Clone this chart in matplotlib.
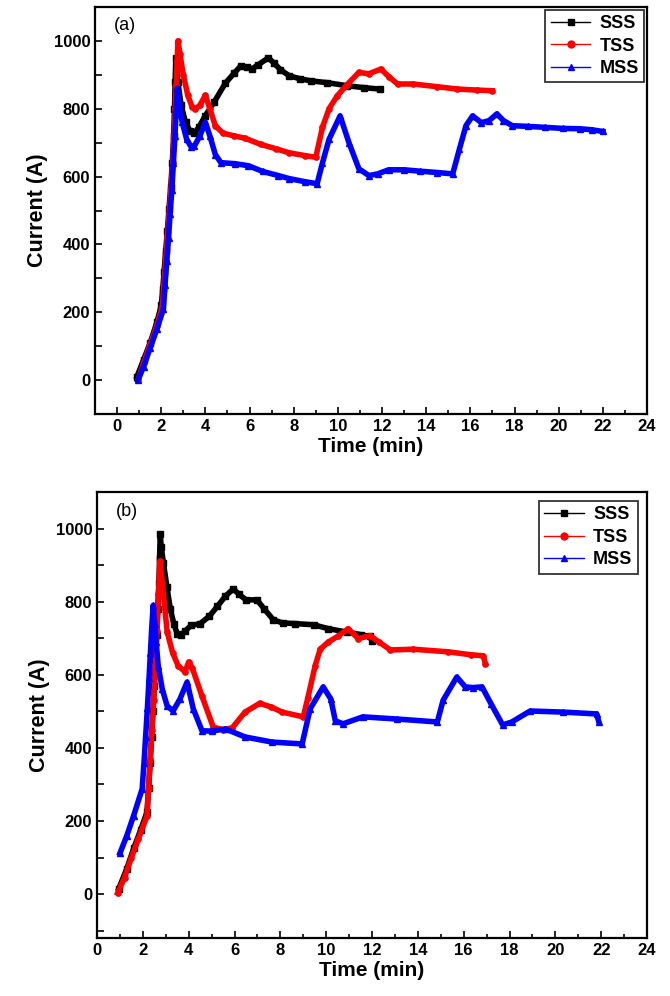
import matplotlib.pyplot as plt
from matplotlib.lines import Line2D
from matplotlib.ticker import MultipleLocator

plt.rcParams['font.family'] = ['Liberation Sans', 'DejaVu Sans']

# ---- panel (a) ----
a_sss_t = [0.9, 1.2, 1.5, 1.8, 2.0, 2.07, 2.13, 2.2, 2.28, 2.35, 2.43, 2.5, 2.56, 2.6, 2.63, 2.66,
           2.75, 2.9, 3.1, 3.3, 3.5, 3.7, 4.0, 4.4, 4.9, 5.3, 5.6, 5.9, 6.1, 6.4, 6.85, 7.1, 7.4,
           7.8, 8.3, 8.8, 9.5, 10.4, 11.2, 11.9]
a_sss_i = [10, 60, 110, 170, 220, 270, 320, 380, 440, 505, 570, 640, 720, 800, 880, 950,
           880, 810, 760, 735, 728, 745, 780, 820, 875, 905, 926, 922, 917, 930, 950, 935, 915,
           897, 888, 882, 877, 868, 862, 858]

a_tss_t = [0.95, 1.2, 1.5, 1.8, 2.05, 2.12, 2.2, 2.28, 2.36, 2.44, 2.52, 2.58, 2.64, 2.68, 2.72, 2.76,
           2.85, 3.0, 3.2, 3.4, 3.55, 3.75, 4.0, 4.2, 4.45, 4.8, 5.3, 5.8, 6.5, 7.2, 7.8, 8.5, 9.0,
           9.3, 9.6, 9.97, 10.4, 10.95, 11.4, 11.95, 12.3, 12.7, 13.4, 14.5, 15.4, 16.3, 17.0]
a_tss_i = [0, 50, 105, 160, 215, 280, 350, 420, 490, 560, 640, 720, 800, 870, 940, 1000,
           960, 900, 840, 805, 800, 810, 840, 800, 750, 728, 720, 713, 695, 682, 670, 662, 657,
           745, 800, 838, 870, 907, 903, 917, 895, 873, 873, 865, 858, 855, 853]

a_mss_t = [0.95, 1.2, 1.5, 1.8, 2.1, 2.17, 2.25, 2.33, 2.4, 2.48, 2.55, 2.62, 2.68, 2.73,
           2.8, 2.95, 3.15, 3.35, 3.5, 3.75, 4.0, 4.2, 4.45, 4.7, 5.35, 5.95, 6.6, 7.3, 7.8, 8.5,
           9.06, 9.3, 9.6, 10.1, 10.5, 10.95, 11.4, 11.8, 12.3, 13.0, 13.7, 14.5, 15.2, 15.5, 15.8,
           16.1, 16.5, 16.85, 17.2, 17.5, 17.9, 18.6, 19.4, 20.2, 20.95, 21.5, 22.0]
a_mss_i = [0, 40, 95, 150, 210, 280, 350, 420, 490, 560, 640, 720, 800, 860,
           820, 760, 710, 688, 690, 720, 760, 720, 665, 641, 638, 632, 615, 603, 594, 585,
           579, 640, 710, 779, 700, 623, 603, 608, 620, 620, 616, 612, 608, 680, 750,
           779, 759, 765, 785, 765, 750, 748, 745, 742, 741, 738, 733]

# ---- panel (b) ----
b_sss_t = [0.95, 1.3, 1.6, 1.9, 2.18, 2.25, 2.32, 2.38, 2.44, 2.5, 2.55, 2.6, 2.65, 2.7, 2.73, 2.76,
           2.8, 2.9, 3.05, 3.2, 3.35, 3.5, 3.65, 3.85, 4.1, 4.5, 4.9, 5.25, 5.6, 5.95, 6.2, 6.5,
           6.98, 7.3, 7.7, 8.1, 8.65, 9.45, 10.1, 10.9, 11.5, 11.9, 12.0]
b_sss_i = [15, 70, 125, 175, 224, 290, 360, 430, 500, 570, 640, 710, 780, 850, 920, 985,
           950, 905, 840, 780, 740, 712, 708, 720, 735, 740, 760, 787, 815, 835, 820, 805,
           805, 780, 750, 742, 740, 737, 726, 717, 710, 705, 693]

b_tss_t = [0.9, 1.2, 1.5, 1.8, 2.18, 2.25, 2.32, 2.4, 2.47, 2.55, 2.62, 2.68, 2.75,
           2.85, 3.06, 3.3, 3.54, 3.84, 4.0, 4.15, 4.58, 5.07, 5.5, 5.9, 6.46, 7.1, 7.6, 8.08,
           9.0, 9.2, 9.52, 9.74, 10.1, 10.5, 10.96, 11.4, 11.92, 12.3, 12.8, 13.8, 15.3, 16.3,
           16.85, 16.95]
b_tss_i = [3, 45, 100, 150, 214, 290, 370, 450, 530, 620, 720, 820, 911,
           850, 718, 660, 625, 608, 635, 620, 542, 457, 450, 455, 498, 522, 512, 498,
           485, 537, 625, 670, 690, 705, 726, 699, 707, 690, 668, 670, 663, 655,
           652, 630]

b_mss_t = [1.0, 1.3, 1.6, 1.97, 2.05, 2.12, 2.2, 2.27, 2.33, 2.39, 2.45, 2.52, 2.58, 2.67,
           2.85, 3.06, 3.32, 3.62, 3.93, 4.2, 4.58, 5.0, 5.6, 6.46, 7.64, 8.95, 9.3, 9.87,
           10.2, 10.4, 10.74, 11.6, 13.1, 14.85, 15.1, 15.7, 16.07, 16.4, 16.8, 17.2, 17.7,
           18.1, 18.9, 20.35, 21.8, 21.9]
b_mss_i = [112, 160, 215, 288, 360, 430, 510, 590, 660, 730, 790, 740, 690, 625,
           560, 515, 501, 534, 580, 507, 447, 446, 452, 430, 416, 411, 507, 567,
           534, 474, 466, 485, 479, 471, 530, 594, 567, 565, 567, 520, 463,
           471, 501, 498, 493, 471]

names = ['SSS', 'TSS', 'MSS']
colors = ['black', 'red', 'blue']
markers = ['s', 'o', '^']

fig = plt.figure(figsize=(6.7, 9.96), dpi=100)
ax_a = fig.add_axes([0.1418, 0.5843, 0.8239, 0.4087])
ax_b = fig.add_axes([0.1448, 0.0582, 0.8209, 0.4478])

panels = [
    (ax_a, [(a_sss_t, a_sss_i), (a_tss_t, a_tss_i), (a_mss_t, a_mss_i)], '(a)', (-1, 24), (-100, 1100)),
    (ax_b, [(b_sss_t, b_sss_i), (b_tss_t, b_tss_i), (b_mss_t, b_mss_i)], '(b)', (0, 24), (-120, 1100)),
]

for ax, series, tag, xl, yl in panels:
    for (t, i), c, m in zip(series, colors, markers):
        ax.plot(t, i, color=c, lw=4.0, marker=m, ms=3.8, mec=c, mfc=c)
    ax.set_xlim(*xl)
    ax.set_ylim(*yl)
    ax.xaxis.set_major_locator(MultipleLocator(2))
    ax.xaxis.set_minor_locator(MultipleLocator(1))
    ax.yaxis.set_major_locator(MultipleLocator(200))
    ax.yaxis.set_minor_locator(MultipleLocator(100))
    ax.tick_params(which='major', direction='in', length=5, width=1.2, labelsize=12)
    ax.tick_params(which='minor', direction='in', length=3, width=1.2)
    ax.tick_params(axis='y', which='minor', length=5)
    for lab in ax.get_xticklabels() + ax.get_yticklabels():
        lab.set_fontweight('bold')
    for sp in ax.spines.values():
        sp.set_linewidth(1.6)
    ax.set_xlabel('Time (min)', fontsize=15, fontweight='bold', labelpad=2)
    ax.set_ylabel('Current (A)', fontsize=15.5, fontweight='bold', labelpad=4)
    ax.text(0.035, 0.975, tag, transform=ax.transAxes, fontsize=13, va='top', ha='left')

    handles = [Line2D([], [], color=c, lw=1, marker=m, ms=5) for c, m in zip(colors, markers)]
    leg = ax.legend(handles, names, loc='upper right', frameon=True, fancybox=False,
                    edgecolor='black', prop={'weight': 'bold', 'size': 13},
                    handlelength=2.2, handletextpad=0.5, labelspacing=0.3, borderpad=0.3,
                    borderaxespad=0.15 if ax is ax_a else 0.5)
    leg.get_frame().set_linewidth(1.3)

fig.savefig('out.png', dpi=100)
